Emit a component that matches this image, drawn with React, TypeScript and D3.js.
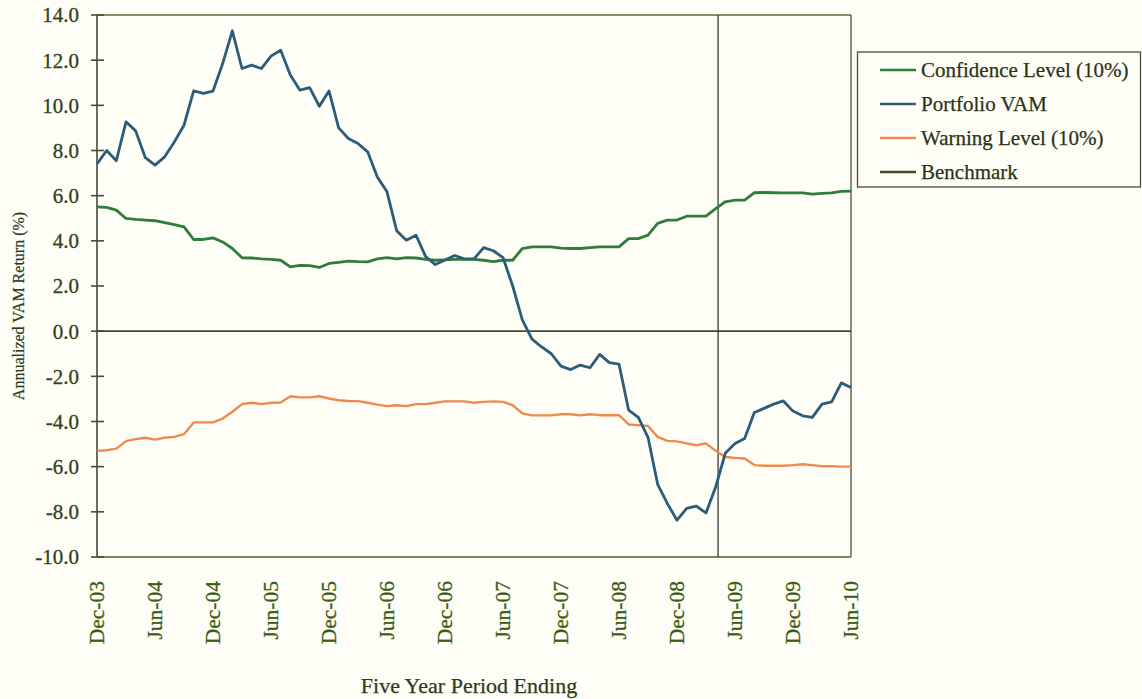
import React from "react";
import * as d3 from "d3";

// ---- Data (monthly, Dec-03 .. Jun-10) ----
const startMonth = new Date(2003, 11, 1);
const endMonth = new Date(2010, 6, 1);
const months = d3.timeMonth.range(startMonth, endMonth);

const portfolioVAM = [
  7.4, 8.0, 7.55, 9.27, 8.87, 7.68, 7.35, 7.72, 8.38, 9.12,
  10.64, 10.53, 10.63, 11.85, 13.3, 11.63, 11.78, 11.63, 12.18, 12.44,
  11.34, 10.67, 10.78, 9.96, 10.64, 9.0, 8.53, 8.31, 7.94, 6.83,
  6.17, 4.45, 4.03, 4.25, 3.3, 2.95, 3.15, 3.35, 3.2, 3.2,
  3.7, 3.56, 3.26, 2.0, 0.5, -0.35, -0.7, -1.0, -1.55, -1.7,
  -1.5, -1.62, -1.03, -1.39, -1.46, -3.5, -3.82, -4.7, -6.78, -7.63,
  -8.37, -7.85, -7.75, -8.05, -6.9, -5.4, -4.97, -4.75, -3.6, -3.42,
  -3.23, -3.09, -3.54, -3.75, -3.82, -3.23, -3.13, -2.29, -2.49,
];

const confidenceLevel = [
  5.5, 5.48, 5.36, 4.99, 4.95, 4.92, 4.89, 4.81, 4.72, 4.62,
  4.06, 4.06, 4.13, 3.95, 3.66, 3.25, 3.24, 3.2, 3.18, 3.14,
  2.85, 2.91, 2.9, 2.82, 3.0, 3.05, 3.1, 3.08, 3.07, 3.2,
  3.26, 3.2, 3.26, 3.24, 3.18, 3.14, 3.16, 3.18, 3.18, 3.18,
  3.14, 3.08, 3.14, 3.14, 3.66, 3.73, 3.73, 3.73, 3.68, 3.66,
  3.66, 3.7, 3.73, 3.73, 3.73, 4.1, 4.1, 4.25, 4.77, 4.92,
  4.92, 5.09, 5.09, 5.09, 5.43, 5.73, 5.8, 5.8, 6.13, 6.14,
  6.13, 6.12, 6.12, 6.12, 6.07, 6.1, 6.12, 6.19, 6.2,
];

const warningLevel = [
  -5.3, -5.27, -5.2, -4.87, -4.78, -4.72, -4.8, -4.72, -4.68, -4.56,
  -4.04, -4.04, -4.04, -3.87, -3.57, -3.23, -3.17, -3.23, -3.17, -3.16,
  -2.88, -2.93, -2.93, -2.88, -2.98, -3.06, -3.09, -3.1, -3.17, -3.25,
  -3.32, -3.28, -3.32, -3.23, -3.23, -3.17, -3.11, -3.11, -3.11, -3.17,
  -3.13, -3.11, -3.13, -3.28, -3.64, -3.73, -3.73, -3.73, -3.68, -3.68,
  -3.73, -3.68, -3.72, -3.72, -3.72, -4.13, -4.16, -4.2, -4.68, -4.86,
  -4.88, -4.97, -5.05, -4.97, -5.3, -5.57, -5.61, -5.64, -5.93, -5.96,
  -5.96, -5.96, -5.93, -5.89, -5.93, -5.98, -5.98, -6.0, -6.0,
];

const benchmarkValue = 0;
const markerMonthIndex = 64.25; // vertical marker between Apr-09 and May-09

const yTicks = [-10, -8, -6, -4, -2, 0, 2, 4, 6, 8, 10, 12, 14];
const xTickStep = 6;

const legendItems = [
  { label: "Confidence Level (10%)", color: "#2f7d3c" },
  { label: "Portfolio VAM", color: "#2d5c78" },
  { label: "Warning Level (10%)", color: "#ef8a4c" },
  { label: "Benchmark", color: "#3d4d2a" },
];

const fmtMonth = d3.timeFormat("%b-%y");

export default function App() {
  const left = 97, right = 851, top = 15, bottom = 557;
  const x = d3.scaleLinear().domain([0, months.length - 1]).range([left, right]);
  const y = d3.scaleLinear().domain([-10, 14]).range([bottom, top]);
  const line = d3
    .line<number>()
    .x((_, i) => x(i))
    .y((d) => y(d));

  const xTickIdx = d3.range(0, months.length, xTickStep);
  const font = "'Liberation Serif', 'Times New Roman', serif";

  return (
    <svg
      width={1142}
      height={699}
      style={{ position: "absolute", left: 0, top: 0, background: "#fefef6" }}
    >
      <rect x={0} y={0} width={1142} height={699} fill="#fefef6" />
      {/* plot frame */}
      <line x1={left} x2={right} y1={top} y2={top} stroke="#5d7034" strokeWidth={1.6} />
      <line x1={right} x2={right} y1={top} y2={bottom} stroke="#4a4a40" strokeWidth={1.3} />
      <line x1={left} x2={right} y1={bottom} y2={bottom} stroke="#4d5e30" strokeWidth={1.6} />
      <line x1={left} x2={left} y1={top} y2={bottom} stroke="#44483a" strokeWidth={1.6} />

      {/* y ticks */}
      {yTicks.map((t) => (
        <g key={t}>
          <line x1={left - 6} x2={left + 7} y1={y(t)} y2={y(t)} stroke="#44502e" strokeWidth={1.6} />
          <text
            x={79}
            y={y(t)}
            dy="0.35em"
            textAnchor="end"
            fontFamily={font}
            fontSize={21}
            fill="#33401c"
            stroke="#33401c"
            strokeWidth={0.3}
          >
            {t.toFixed(1)}
          </text>
        </g>
      ))}

      {/* x tick labels */}
      {xTickIdx.map((i) => (
        <text
          key={i}
          transform={`translate(${x(i) + 7},581) rotate(-90)`}
          textAnchor="end"
          fontFamily={font}
          fontSize={21.5}
          fill="#3a5c14"
          stroke="#3a5c14"
          strokeWidth={0.3}
        >
          {fmtMonth(months[i])}
        </text>
      ))}

      {/* benchmark (zero) line */}
      <line
        x1={left}
        x2={right}
        y1={y(benchmarkValue)}
        y2={y(benchmarkValue)}
        stroke="#3d4d2a"
        strokeWidth={1.6}
      />
      {/* vertical marker */}
      <line
        x1={x(markerMonthIndex)}
        x2={x(markerMonthIndex)}
        y1={top}
        y2={bottom}
        stroke="#3a3a36"
        strokeWidth={1.3}
      />

      {/* series */}
      <path d={line(warningLevel) || ""} fill="none" stroke="#ef8a4c" strokeWidth={2.4} strokeLinejoin="round" />
      <path d={line(confidenceLevel) || ""} fill="none" stroke="#2f7d3c" strokeWidth={2.8} strokeLinejoin="round" />
      <path d={line(portfolioVAM) || ""} fill="none" stroke="#2d5c78" strokeWidth={2.8} strokeLinejoin="round" />

      {/* axis titles */}
      <text
        transform="translate(24,306) rotate(-90)"
        textAnchor="middle"
        fontFamily={font}
        fontSize={16}
        fill="#2e3a1c"
        stroke="#2e3a1c"
        strokeWidth={0.2}
      >
        Annualized VAM Return (%)
      </text>
      <text
        x={469}
        y={693}
        textAnchor="middle"
        fontFamily={font}
        fontSize={22}
        fill="#2e3a1c"
        stroke="#2e3a1c"
        strokeWidth={0.25}
      >
        Five Year Period Ending
      </text>

      {/* legend */}
      <rect x={857.5} y={52} width={283} height={135} fill="#fefef6" stroke="#4a4a40" strokeWidth={1.3} />
      {legendItems.map((item, k) => {
        const ly = 70 + k * 34;
        return (
          <g key={item.label}>
            <line x1={880} x2={916} y1={ly} y2={ly} stroke={item.color} strokeWidth={2.6} />
            <text
              x={921}
              y={ly}
              dy="0.35em"
              fontFamily={font}
              fontSize={21}
              fill="#2a3418"
              stroke="#2a3418"
              strokeWidth={0.25}
            >
              {item.label}
            </text>
          </g>
        );
      })}
    </svg>
  );
}
